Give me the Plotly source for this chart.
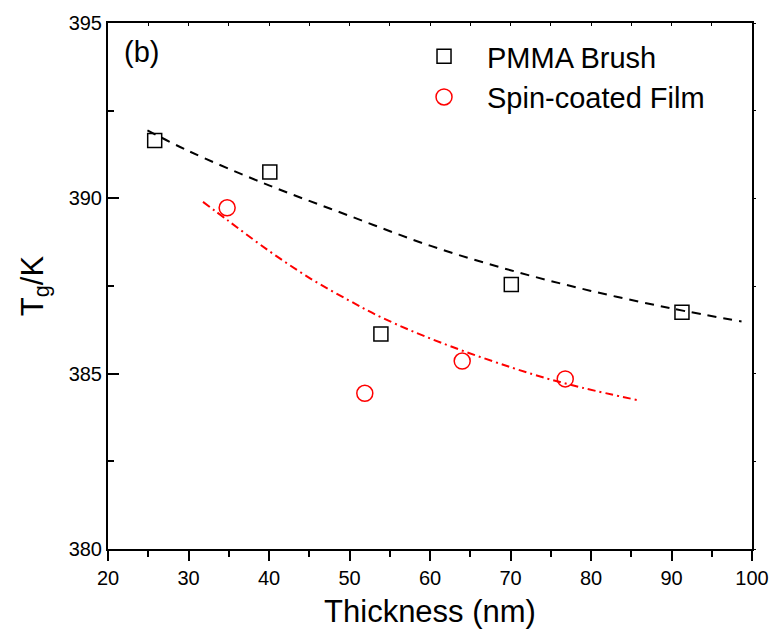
import plotly.graph_objects as go

# Data points
brush_x = [25.8, 40.1, 53.9, 70.1, 91.3]
brush_y = [391.65, 390.75, 386.13, 387.54, 386.75]

film_x = [34.8, 51.9, 64.0, 76.8]
film_y = [389.73, 384.44, 385.36, 384.85]

# Fitted curves
brush_fit_x = [24.9, 30, 40, 50, 60, 70, 80, 90, 98.7]
brush_fit_y = [391.94, 391.35, 390.37, 389.50, 388.65, 387.95, 387.36, 386.86, 386.49]

film_fit_x = [31.8, 35, 40, 45.1, 50, 54.1, 61.4, 72.8, 78.9, 85.9]
film_fit_y = [389.90, 389.35, 388.50, 387.72, 387.08, 386.59, 385.88, 384.98, 384.60, 384.24]

x_tick_vals = [20, 30, 40, 50, 60, 70, 80, 90, 100]
y_tick_vals = [380, 385, 390, 395]

FONT = "Liberation Sans, Arial, sans-serif"

fig = go.Figure()

fig.add_trace(go.Scatter(
    x=brush_fit_x, y=brush_fit_y, mode="lines", line_shape="spline",
    line=dict(color="black", width=2, dash="9px,7px"), showlegend=False,
    hoverinfo="skip"))
fig.add_trace(go.Scatter(
    x=film_fit_x, y=film_fit_y, mode="lines", line_shape="spline",
    line=dict(color="red", width=2, dash="8px,4px,2px,4px"), showlegend=False,
    hoverinfo="skip"))

fig.add_trace(go.Scatter(
    x=brush_x, y=brush_y, mode="markers", name="PMMA Brush",
    marker=dict(symbol="square-open", size=14, color="black", line=dict(width=1.5, color="black"))))
fig.add_trace(go.Scatter(
    x=film_x, y=film_y, mode="markers", name="Spin-coated Film",
    marker=dict(symbol="circle-open", size=16, color="red", line=dict(width=1.5, color="red"))))

# invisible trace to carry the top/right tick axes
fig.add_trace(go.Scatter(x=[], y=[], xaxis="x2", yaxis="y2", showlegend=False, hoverinfo="skip"))

fig.add_annotation(x=0.022, y=0.98, xref="paper", yref="paper", text="(b)",
                   showarrow=False, xanchor="left", yanchor="top",
                   font=dict(family=FONT, size=29, color="black"))

fig.update_xaxes(
    range=[20, 100], tickvals=x_tick_vals, ticks="outside", ticklen=10, tickwidth=2,
    tickcolor="black", showline=True, linecolor="black", linewidth=2, mirror=True,
    showgrid=False, zeroline=False,
    tickfont=dict(family=FONT, size=20, color="black"),
    minor=dict(dtick=5, ticks="outside", ticklen=6, tickwidth=2, tickcolor="black"),
    title=dict(text="Thickness (nm)", font=dict(family=FONT, size=31, color="black"), standoff=12),
)
fig.update_yaxes(
    range=[380, 395], tickvals=y_tick_vals, ticks="inside", ticklen=11, tickwidth=2,
    tickcolor="black", showline=True, linecolor="black", linewidth=2, mirror=True,
    showgrid=False, zeroline=False,
    tickfont=dict(family=FONT, size=20, color="black"),
    minor=dict(dtick=2.5, ticks="inside", ticklen=6, tickwidth=2, tickcolor="black"),
    title=dict(text="T<sub>g</sub>/K", font=dict(family=FONT, size=31, color="black"), standoff=16),
)

fig.update_layout(
    width=781, height=636,
    margin=dict(l=108, r=19, t=20, b=87),
    paper_bgcolor="white", plot_bgcolor="white",
    xaxis2=dict(overlaying="x", side="top", range=[20, 100], dtick=5, ticks="inside",
                ticklen=3, tickwidth=1, tickcolor="black", showticklabels=False,
                showgrid=False, zeroline=False),
    yaxis2=dict(overlaying="y", side="right", range=[380, 395], dtick=2.5, ticks="outside",
                ticklen=3, tickwidth=1, tickcolor="black", showticklabels=False,
                showgrid=False, zeroline=False),
    legend=dict(x=0.455, y=0.985, xanchor="left", yanchor="top",
                font=dict(family=FONT, size=29, color="black"),
                bgcolor="rgba(0,0,0,0)", itemwidth=76, tracegroupgap=0),
)

fig.write_html("out.html", config={"displayModeBar": False},
               post_script="document.body.style.margin='0';")
